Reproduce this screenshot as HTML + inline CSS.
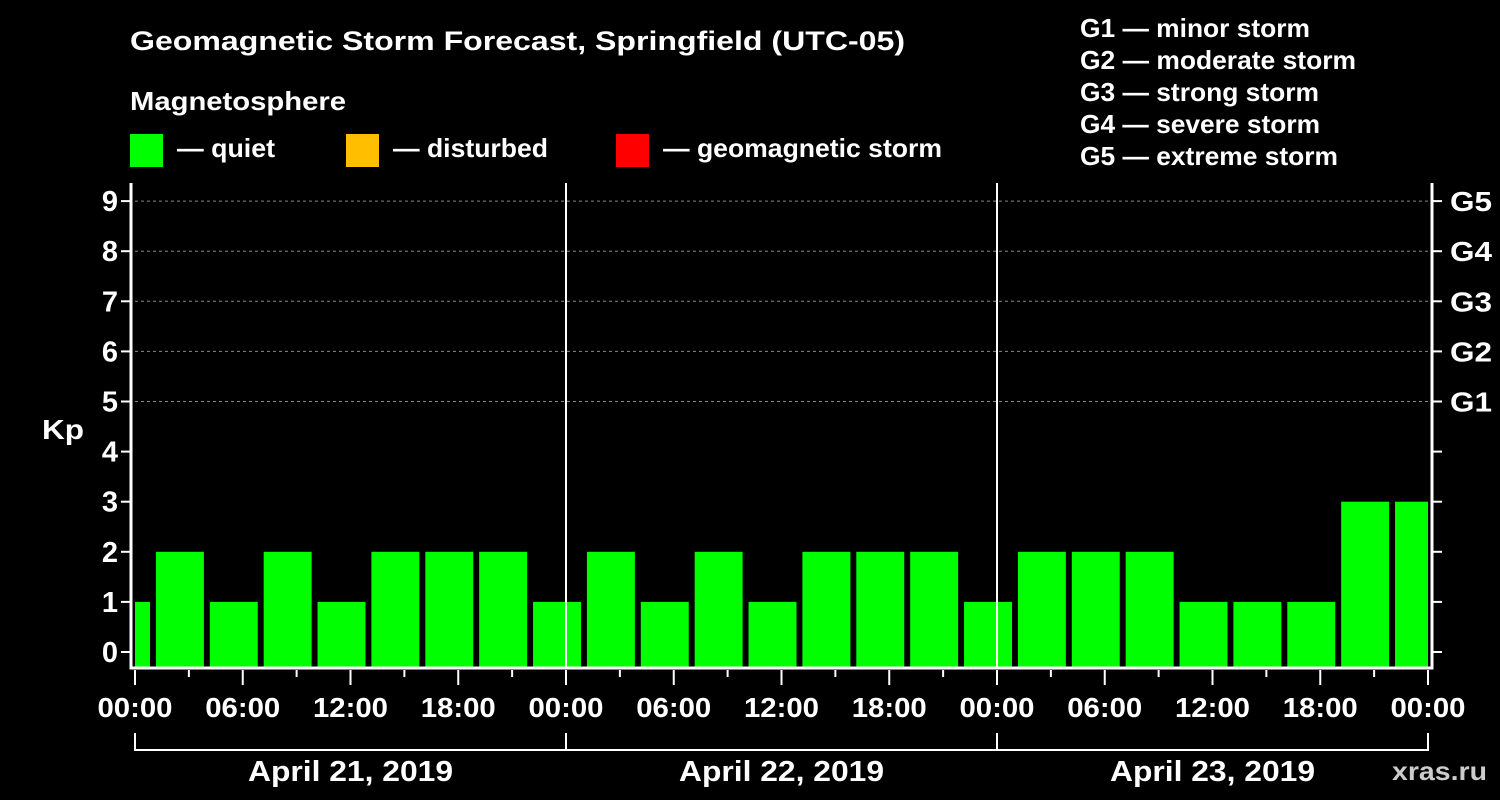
<!DOCTYPE html>
<html><head><meta charset="utf-8"><style>
html,body{margin:0;padding:0;background:#000;width:1500px;height:800px;overflow:hidden}
svg text{font-family:"Liberation Sans",Arial,sans-serif;font-weight:bold;fill:#fff}
</style></head><body>
<svg id="chart" width="1500" height="800" xmlns="http://www.w3.org/2000/svg">
<text x="130" y="50" font-size="27" textLength="775" lengthAdjust="spacingAndGlyphs">Geomagnetic Storm Forecast, Springfield (UTC-05)</text>
<text x="130" y="110" font-size="26" textLength="216" lengthAdjust="spacingAndGlyphs">Magnetosphere</text>
<g><rect x="130" y="134" width="33" height="33" fill="#00ff00"/><text x="177" y="157" font-size="26" textLength="98" lengthAdjust="spacingAndGlyphs">— quiet</text></g>
<g><rect x="346" y="134" width="33" height="33" fill="#ffbf00"/><text x="393" y="157" font-size="26" textLength="155" lengthAdjust="spacingAndGlyphs">— disturbed</text></g>
<g><rect x="616" y="134" width="33" height="33" fill="#ff0000"/><text x="663" y="157" font-size="26" textLength="279" lengthAdjust="spacingAndGlyphs">— geomagnetic storm</text></g>
<g font-size="26">
<text x="1080" y="37" textLength="230" lengthAdjust="spacingAndGlyphs">G1 — minor storm</text>
<text x="1080" y="69" textLength="276" lengthAdjust="spacingAndGlyphs">G2 — moderate storm</text>
<text x="1080" y="101" textLength="239" lengthAdjust="spacingAndGlyphs">G3 — strong storm</text>
<text x="1080" y="133" textLength="240" lengthAdjust="spacingAndGlyphs">G4 — severe storm</text>
<text x="1080" y="165" textLength="258" lengthAdjust="spacingAndGlyphs">G5 — extreme storm</text>
</g>
<text x="42" y="439" font-size="28" textLength="42" lengthAdjust="spacingAndGlyphs">Kp</text>
<text x="1392" y="780" font-size="26" textLength="95" lengthAdjust="spacingAndGlyphs" style="fill:#ccc">xras.ru</text>
<g id="grid"></g><g id="bars"></g><g id="axes"></g>
</svg>
<script>
const kpValues=[1,2,1,2,1,2,2,2,1,2,1,2,1,2,2,2,1,2,2,2,1,1,1,3,3];
const binHours=[-0.5,2.5,5.5,8.5,11.5,14.5,17.5,20.5,23.5,26.5,29.5,32.5,35.5,38.5,41.5,44.5,47.5,50.5,53.5,56.5,59.5,62.5,65.5,68.5,71.5];
const yTicks=[0,1,2,3,4,5,6,7,8,9];
const gLabels=["G1","G2","G3","G4","G5"];
const xTickLabels=["00:00","06:00","12:00","18:00","00:00","06:00","12:00","18:00","00:00","06:00","12:00","18:00","00:00"];
const dayLabels=["April 21, 2019","April 22, 2019","April 23, 2019"];
const NS="http://www.w3.org/2000/svg";
const X0=135,X1=1428,TOP=183,BOT=668;
const x=h=>X0+(X1-X0)*h/72;
const y=v=>652-v*50.1;
function mk(tag,attrs,parent){const e=document.createElementNS(NS,tag);for(const k in attrs)e.setAttribute(k,attrs[k]);parent.appendChild(e);return e;}
const grid=document.getElementById('grid'),bars=document.getElementById('bars'),axes=document.getElementById('axes');
for(let v=5;v<=9;v++){const l=mk('line',{x1:X0,x2:X1,y1:y(v),y2:y(v),stroke:'#888','stroke-dasharray':'3,3','stroke-width':1},grid);

}
const bw=(X1-X0)/72*2.67;
kpValues.forEach((v,i)=>{const c=x(binHours[i]);let a=Math.max(X0,c-bw/2),b=Math.min(X1,c+bw/2);
const col=v>=5?'#ff0000':(v>=4?'#ffbf00':'#00ff00');
const r=mk('rect',{x:a,y:y(v),width:b-a,height:BOT-y(v),fill:col},bars);

});
[24,48].forEach(h=>{const l=mk('line',{x1:x(h),x2:x(h),y1:TOP,y2:BOT,stroke:'#fff','stroke-width':2},axes);

});
const fr=mk('path',{d:`M131,${TOP} V${BOT} H1432 V${TOP}`,stroke:'#fff','stroke-width':3,fill:'none'},axes);


yTicks.forEach(v=>{mk('line',{x1:121,x2:131,y1:y(v),y2:y(v),stroke:'#fff','stroke-width':2},axes);
mk('line',{x1:1432,x2:1442,y1:y(v),y2:y(v),stroke:'#fff','stroke-width':2},axes);
const t=mk('text',{x:118,y:y(v)+10,'font-size':29,'text-anchor':'end'},axes);t.textContent=v;

});
gLabels.forEach((g,i)=>{const t=mk('text',{x:1450,y:y(5+i)+10,'font-size':28,textLength:42,lengthAdjust:'spacingAndGlyphs'},axes);t.textContent=g;

});
for(let h=0;h<=72;h+=3){const long=h%6===0;mk('line',{x1:x(h),x2:x(h),y1:BOT+2,y2:BOT+(long?17:9),stroke:'#fff','stroke-width':2},axes);}
xTickLabels.forEach((s,i)=>{const t=mk('text',{x:x(i*6),y:717,'font-size':28,'text-anchor':'middle',textLength:75,lengthAdjust:'spacingAndGlyphs'},axes);t.textContent=s;

});
mk('path',{d:`M${x(0)},733 V750 H${x(72)} V733 M${x(24)},733 V750 M${x(48)},733 V750`,stroke:'#fff','stroke-width':2,fill:'none'},axes);
dayLabels.forEach((s,i)=>{const t=mk('text',{x:x(i*24+12),y:781,'font-size':29,'text-anchor':'middle',textLength:205,lengthAdjust:'spacingAndGlyphs'},axes);t.textContent=s;

});
</script>
</body></html>
